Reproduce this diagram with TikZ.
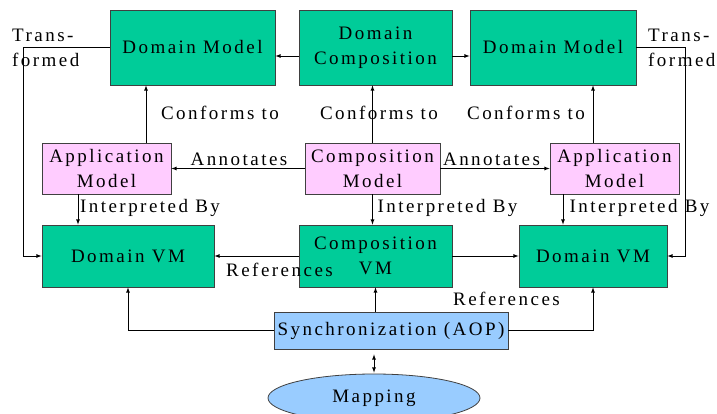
\documentclass[tikz,border=0pt]{standalone}
\usepackage{fontspec}
\setmainfont{Liberation Serif}[LetterSpace=13]
\usetikzlibrary{arrows,shapes}
\definecolor{vmgreen}{RGB}{0,204,153}
\definecolor{modelpink}{RGB}{255,204,255}
\definecolor{syncblue}{RGB}{153,204,255}
\tikzstyle{block}=[draw=black!75,line width=0.8pt,inner sep=0pt,align=center,font=\fontsize{19}{25}\selectfont]
\tikzstyle{greenbox}=[block,fill=vmgreen]
\tikzstyle{pinkbox}=[block,fill=modelpink,minimum width=129pt,minimum height=51pt]
\tikzstyle{lbl}=[inner sep=0pt,align=left,font=\fontsize{19}{25}\selectfont]
\tikzstyle{link}=[draw,line width=0.8pt,-latex]

\begin{document}
\begin{tikzpicture}[x=1pt,y=-1pt]
    \path[use as bounding box,fill=white] (0,0) rectangle (717,414);
    % First the boxes
    \node[greenbox,minimum width=165pt,minimum height=75pt] (dmL) at (192.5,47.5) {Domain Model};
    \node[greenbox,minimum width=153pt,minimum height=75pt] (dcomp) at (375.5,47.5) {Domain\\Composition};
    \node[greenbox,minimum width=166pt,minimum height=75pt] (dmR) at (553,47.5) {Domain Model};
    \node[pinkbox] (amL) at (106.5,168.5) {Application\\Model};
    \node[pinkbox,minimum width=135pt] (cm) at (372.5,168.5) {Composition\\Model};
    \node[pinkbox] (amR) at (614.5,168.5) {Application\\Model};
    \node[greenbox,minimum width=172pt,minimum height=62pt] (vmL) at (128,256) {Domain VM};
    \node[greenbox,minimum width=153pt,minimum height=62pt] (cvm) at (375.5,256) {Composition\\VM};
    \node[greenbox,minimum width=148pt,minimum height=62pt] (vmR) at (593,256) {Domain VM};
    \node[block,fill=syncblue,minimum width=234pt,minimum height=37pt] (sync) at (391,330.5) {Synchronization (AOP)};
    \node[block,ellipse,fill=syncblue,minimum width=212pt,minimum height=48pt] (map) at (374,398) {Mapping};
    \coordinate (tl) at (23,256);
    \coordinate (tr) at (685,256);
    % Connect the boxes
    \foreach \source/\dest in {cm.west/amL.east, cm.east/amR.west, cvm.west/vmL.east, cvm.east/vmR.west}
        \path[link] (\source) -- (\dest);
    \path[link] ([yshift=-8.5pt]dcomp.west) -- ([yshift=-8.5pt]dmL.east);
    \path[link] ([yshift=-8.5pt]dcomp.east) -- ([yshift=-8.5pt]dmR.west);
    \path[link] (dmL.west) -| (tl) -- (vmL.west);
    \path[link] (dmR.east) -| (tr) -- (vmR.east);
    \path[link] ([xshift=39.5pt]amL.north) -- ([xshift=39.5pt]amL.north |- dmL.south);
    \path[link] (cm.north) -- (cm.north |- dcomp.south);
    \path[link] ([xshift=-21.5pt]amR.north) -- ([xshift=-21.5pt]amR.north |- dmR.south);
    \path[link] ([xshift=-28.5pt]amL.south) -- ([xshift=-28.5pt]amL.south |- vmL.north);
    \path[link] (cm.south) -- (cm.south |- cvm.north);
    \path[link] ([xshift=-51.5pt]amR.south) -- ([xshift=-51.5pt]amR.south |- vmR.north);
    \path[link] (sync.west) -| (vmL.south);
    \path[link] (sync.north -| cvm.south) -- (cvm.south);
    \path[link] (sync.east) -| (vmR.south);
    \path[link,latex-latex,shorten <=5pt,shorten >=1pt] (sync.south -| map.north) -- (map.north);
    % Labels
    \node[lbl,anchor=west] (trL) at (12,48) {Trans-\\formed};
    \node[lbl,anchor=west] (trR) at (648,48) {Trans-\\formed};
    \node[lbl] (conL) at (220,113) {Conforms to};
    \node[lbl] (conM) at (379,113) {Conforms to};
    \node[lbl] (conR) at (526,113) {Conforms to};
    \node[lbl] (annL) at (239,159) {Annotates};
    \node[lbl] (annR) at (491.5,159) {Annotates};
    \node[lbl] (intL) at (150,208) {Interpreted By};
    \node[lbl] (intM) at (447.5,208) {Interpreted By};
    \node[lbl] (intR) at (639.5,208) {Interpreted By};
    \node[lbl] (refL) at (279.5,270) {References};
    \node[lbl] (refR) at (506.5,299) {References};
\end{tikzpicture}
\end{document}
